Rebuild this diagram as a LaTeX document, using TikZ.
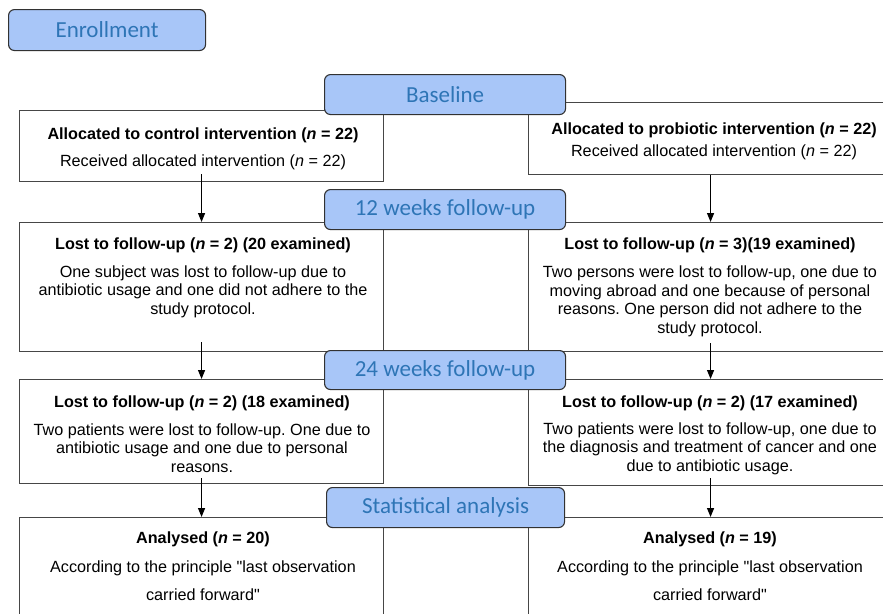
\documentclass[tikz,border=0pt]{standalone}
\usepackage{fontspec}
\setmainfont{Liberation Sans}[Ligatures=TeXOff]
\newfontfamily\tabfont{Carlito}
\usetikzlibrary{arrows.meta}
\definecolor{tabfill}{RGB}{168,198,248}
\definecolor{tabtext}{RGB}{46,117,182}
\definecolor{edge}{RGB}{70,70,70}
\definecolor{tabedge}{RGB}{50,50,50}
\frenchspacing
\tikzset{
  box/.style={draw=edge, line width=1.1pt, fill=white, anchor=north west, minimum width=364pt, inner sep=0pt},
  tab/.style={draw=tabedge, line width=1.1pt, fill=tabfill, rounded corners=6pt, anchor=north west, inner sep=0pt,
    font=\tabfont\fontsize{23}{26}\selectfont, text=tabtext},
  txt/.style={align=center, inner sep=0pt, font=\fontsize{16.2}{18.6}\selectfont},
  arr/.style={draw=black, line width=1.3pt, -{Triangle[length=9pt,width=7pt]}}
}
\begin{document}
\begin{tikzpicture}[x=1pt,y=-1pt]
\useasboundingbox (0,0) rectangle (883,613);
\clip (0,0) rectangle (883,613);
\fill[white] (0,0) rectangle (883,613);
% boxes
\node[box, minimum height=71pt] (c1) at (19,110) {};
\node[box, minimum height=72pt] (p1) at (528,102) {};
\node[box, minimum height=129pt] (c2) at (19,222) {};
\node[box, minimum height=129pt] (p2) at (528,222) {};
\node[box, minimum height=104pt] (c3) at (19,379) {};
\node[box, minimum height=106pt] (p3) at (528,379) {};
\node[box, minimum height=130pt] (c4) at (19,517) {};
\node[box, minimum height=130pt] (p4) at (528,517) {};
% texts
\node[txt] (t1) at (203,148.5) {\textbf{Allocated to control intervention (\textit{n} = 22)}\\[8.4pt]Received allocated intervention (\textit{n} = 22)};
\node[txt] (t2) at (714,141) {\textbf{Allocated to probiotic intervention (\textit{n} = 22)}\\[3.4pt]Received allocated intervention (\textit{n} = 22)};
\node[txt] (t3) at (203,277.5) {\textbf{Lost to follow-up (\textit{n} = 2) (20 examined)}\\[9.4pt]One subject was lost to follow-up due to\\antibiotic usage and one did not adhere to the\\study protocol.};
\node[txt] (t4) at (710,287.5) {\textbf{Lost to follow-up (\textit{n} = 3)(19 examined)}\\[9.4pt]Two persons were lost to follow-up, one due to\\moving abroad and one because of personal\\reasons. One person did not adhere to the\\study protocol.};
\node[txt] (t5) at (202,434) {\textbf{Lost to follow-up (\textit{n} = 2) (18 examined)}\\[9.4pt]Two patients were lost to follow-up. One due to\\antibiotic usage and one due to personal\\reasons.};
\node[txt] (t6) at (710,435) {\textbf{Lost to follow-up (\textit{n} = 2) (17 examined)}\\[8.4pt]Two patients were lost to follow-up, one due to\\the diagnosis and treatment of cancer and one\\due to antibiotic usage.};
\node[txt] (t7) at (203,566.5) {\textbf{Analysed (\textit{n} = 20)}\\[10pt]According to the principle "last observation\\[10pt]carried forward"};
\node[txt] (t8) at (710,566.5) {\textbf{Analysed (\textit{n} = 19)}\\[10pt]According to the principle "last observation\\[10pt]carried forward"};
% arrows
\draw[arr] ([yshift=8pt]c1.south) -- (c2.north);
\draw[arr] (p1.south) -- (p2.north);
\draw[arr] ([yshift=10pt]c2.south) -- (c3.north);
\draw[arr] ([yshift=9pt]p2.south) -- (p3.north);
\draw[arr] ([yshift=6pt]c3.south) -- (c4.north);
\draw[arr] ([yshift=8pt]p3.south) -- (p4.north);
% tabs
\node[tab, minimum width=197pt, minimum height=41pt] (enr) at (8,9) {Enrollment};
\node[tab, minimum width=241pt, minimum height=40pt] (base) at (324,74) {Baseline};
\node[tab, minimum width=241pt, minimum height=40pt] (w12) at (324,189) {12 weeks follow-up};
\node[tab, minimum width=241pt, minimum height=39pt] (w24) at (324,350) {24 weeks follow-up};
\node[tab, minimum width=238pt, minimum height=40pt] (stat) at (326,487) {Statistical analysis};
\end{tikzpicture}
\end{document}
